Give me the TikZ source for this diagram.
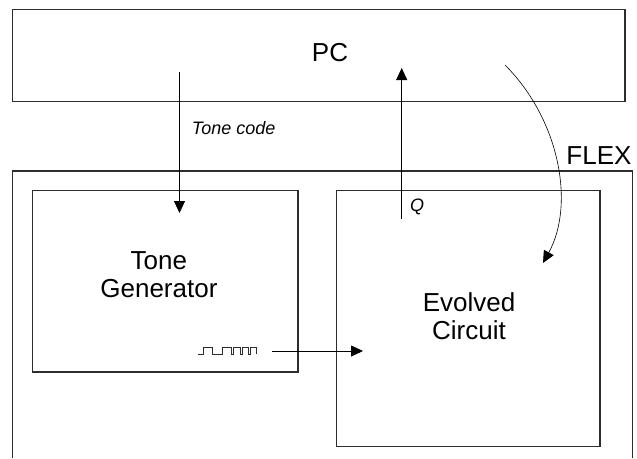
\documentclass[tikz,border=0pt]{standalone}
\usepackage{fontspec}
\setmainfont{Liberation Sans}
\usetikzlibrary{arrows.meta}
\definecolor{linegray}{RGB}{45,45,45}
\tikzstyle{block} = [rectangle, draw=linegray, line width=1.2pt, inner sep=0pt]
\tikzstyle{frame} = [draw=linegray, line width=1.2pt]
\tikzstyle{big}   = [font=\fontsize{26}{28}\selectfont, align=center, inner sep=0pt]
\tikzstyle{small} = [font=\fontsize{18}{20}\selectfont\itshape, inner sep=0pt]
\tikzstyle{arr}   = [-{Triangle[length=12pt,width=11pt]}, line width=0.8pt]
\tikzstyle{wave}  = [line width=0.8pt, draw=linegray]

\begin{document}
\begin{tikzpicture}[x=1pt, y=-1pt]
  \useasboundingbox (0,0) rectangle (637,458);

  % the boxes
  \node[block, minimum width=612.3pt, minimum height=92.2pt] (pc) at (318.85,55.6) {};
  \draw[frame] (12.7,458) |- (632.5,171) -- (632.5,458);
  \node[block, minimum width=265.5pt, minimum height=181.3pt] (tonegen) at (165.25,281.35) {};
  \node[block, minimum width=263.5pt, minimum height=256pt] (evolved) at (468.25,318.5) {};

  % the texts
  \node[big, anchor=base] (pclabel) at (330,61.7) {PC};
  \node[big, anchor=base east] (flexlabel) at (631.7,164) {FLEX};
  \node[big] (tonelabel) at (158.9,275) {Tone\\Generator};
  \node[big] (evolvedlabel) at (469,316.3) {Evolved\\Circuit};
  \node[small, anchor=base west] (codelabel) at (191.7,134) {Tone code};
  \node[small, anchor=base west] (qlabel) at (410,211) {Q};

  % free ends of the connectors
  \coordinate (codein) at (179.5,72);
  \coordinate (codeout) at (179.5,213);
  \coordinate (qin) at (401.7,219);
  \coordinate (qout) at (401.7,68);
  \coordinate (loadin) at (505,65);
  \coordinate (loadout) at (543,263);
  \coordinate (sigin) at (272,351);
  \coordinate (sigout) at (363,351);

  \draw[arr] (codein) -- (codeout);
  \draw[arr] (qin) -- (qout);
  \draw[arr, line width=0.6pt] (loadin) .. controls (560,120) and (575,205) .. (loadout);
  \draw[arr] (sigin) -- (sigout);

  % tone signal
  \draw[wave] (198,354) -- ++(5.5,0) -- ++(0,-7) -- ++(9,0) -- ++(0,7) -- ++(10,0)
    -- ++(0,-7) -- ++(8.5,0) -- ++(0,7) -- ++(2.5,0) -- ++(0,-7) -- ++(6.5,0)
    -- ++(0,7) -- ++(2,0) -- ++(0,-7) -- ++(6,0) -- ++(0,7) -- ++(2,0)
    -- ++(0,-7) -- ++(6,0) -- ++(0,7);
\end{tikzpicture}
\end{document}
